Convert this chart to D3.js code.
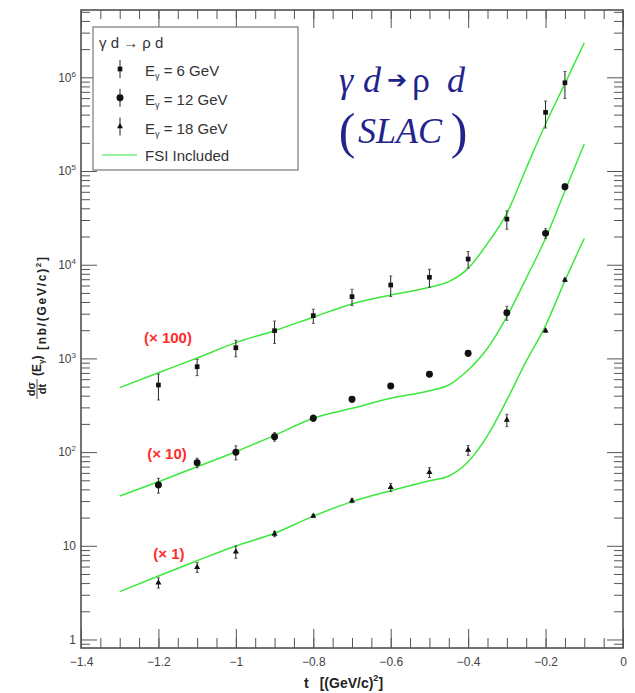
<!DOCTYPE html>
<html>
<head>
<meta charset="utf-8" />
<title>gamma d -> rho d (SLAC)</title>
<script src="https://cdn.jsdelivr.net/npm/d3@7"></script>
<style>
html, body {
  margin: 0;
  padding: 0;
  background: #fff;
}
svg { font-family: "Liberation Sans", Arial, sans-serif; }
.axis .domain { display: none; }
.axis line { stroke: #555; stroke-width: 1; }
.axis text { fill: #444; font-size: 12px; font-family: "Liberation Sans", Arial, sans-serif; }
</style>
</head>
<body>
<svg id="chart" width="635" height="693"></svg>
<script>
// -t points of the measurements
var tPoints = [-1.2, -1.1, -1.0, -0.9, -0.8, -0.7, -0.6, -0.5, -0.4, -0.3, -0.2, -0.15];

// E = 6 GeV (x100)
var e6Val = [520, 815, 1300, 1975, 2860, 4560, 6070, 7340, 11500, 30700, 423000, 875000];
var e6Err = [160, 160, 260, 530, 490, 900, 1500, 1600, 2300, 6800, 135000, 280000];
// E = 12 GeV (x10)
var e12Val = [44.5, 77, 99.6, 146, 230, 366, 508, 676, 1133, 3075, 21600, 67900];
var e12Err = [8, 9, 17, 15, 18, 26, 25, 34, 80, 520, 2600, 4800];
// E = 18 GeV (x1)
var e18Val = [4.04, 5.9, 8.65, 13.4, 20.8, 30.3, 42.1, 60.8, 105, 220, 1975, 6870];
var e18Err = [0.5, 0.7, 1.3, 0.9, 0.8, 1.5, 4.2, 7.3, 12.6, 33, 80, 275];

// FSI curves
var fsiT = [-1.3, -1.2, -1.1, -1.0, -0.9, -0.8, -0.7, -0.6, -0.5, -0.45, -0.4, -0.35, -0.3, -0.25, -0.2, -0.15, -0.1];
var fsi6 = [487, 702, 1009, 1472, 1977, 2754, 3811, 4753, 5741, 6592, 9141, 16900, 35300, 107000, 318000, 855000, 2340000];
var fsi12 = [34, 48.3, 69.8, 101, 151, 230, 293, 375, 452, 520, 752, 1282, 2786, 7160, 19140, 61200, 194000];
var fsi18 = [3.24, 4.76, 6.93, 9.95, 13.6, 20.7, 29.6, 38.7, 49.5, 55.6, 79, 150, 360, 933, 2240, 6761, 19050];

// axes
var xTicks = [-1.4, -1.2, -1.0, -0.8, -0.6, -0.4, -0.2, 0];
var xMinor = d3.range(-1.4, 0.001, 0.05);
var yTicks = [1, 10, 100, 1000, 1e4, 1e5, 1e6];
var xDomain = [-1.4, 0];
var yDomain = [0.811, 5.23e6];

var pL = 81, pR = 623, pT = 10, pB = 648;
var svg = d3.select("#chart");

var x = d3.scaleLinear().domain(xDomain).range([pL, pR]);
var y = d3.scaleLog().domain(yDomain).range([pB, pT]);

// minor y ticks 2..9 per decade
var yMinor = [];
for (var e = -1; e <= 6; e++) {
  for (var m = 2; m <= 9; m++) {
    var v = m * Math.pow(10, e);
    if (v >= yDomain[0] && v <= yDomain[1]) yMinor.push(v);
  }
}

// frame
svg.append("rect")
  .attr("x", pL).attr("y", pT)
  .attr("width", pR - pL).attr("height", pB - pT)
  .attr("fill", "none").attr("stroke", "#444").attr("stroke-width", 1.5);

// x axes (bottom with labels, top ticks only)
svg.append("g").attr("class", "axis")
  .attr("transform", "translate(0," + pB + ")")
  .call(d3.axisBottom(x).tickValues(xMinor).tickSize(-10).tickFormat(""));
svg.append("g").attr("class", "axis")
  .attr("transform", "translate(0," + pB + ")")
  .call(d3.axisBottom(x).tickValues(xTicks).tickSize(-19).tickPadding(9)
    .tickFormat(function(d) { return d === 0 ? "0" : d3.format("~g")(d); }));
svg.append("g").attr("class", "axis")
  .attr("transform", "translate(0," + pT + ")")
  .call(d3.axisTop(x).tickValues(xMinor).tickSize(-9).tickFormat(""));
svg.append("g").attr("class", "axis")
  .attr("transform", "translate(0," + pT + ")")
  .call(d3.axisTop(x).tickValues(xTicks).tickSize(-18).tickFormat(""));

// y axes
svg.append("g").attr("class", "axis")
  .attr("transform", "translate(" + pL + ",0)")
  .call(d3.axisLeft(y).tickValues(yMinor).tickSize(-9).tickFormat(""));
var yAx = svg.append("g").attr("class", "axis")
  .attr("transform", "translate(" + pL + ",0)")
  .call(d3.axisLeft(y).tickValues(yTicks).tickSize(-16).tickPadding(5).tickFormat(""));
yAx.selectAll(".tick text").each(function(d) {
  var p = Math.round(Math.log10(d));
  var t = d3.select(this);
  if (p < 2) {
    t.text(p === 0 ? "1" : "10");
  } else {
    t.append("tspan").text("10");
    t.append("tspan").attr("font-size", "8px").attr("dy", "-5").text(p);
  }
});
svg.append("g").attr("class", "axis")
  .attr("transform", "translate(" + pR + ",0)")
  .call(d3.axisRight(y).tickValues(yMinor).tickSize(-9).tickFormat(""));
svg.append("g").attr("class", "axis")
  .attr("transform", "translate(" + pR + ",0)")
  .call(d3.axisRight(y).tickValues(yTicks).tickSize(-16).tickFormat(""));

// FSI curves
var line = d3.line()
  .x(function(d) { return x(d[0]); })
  .y(function(d) { return y(d[1]); })
  .curve(d3.curveMonotoneX);

[fsi6, fsi12, fsi18].forEach(function(vals) {
  svg.append("path")
    .datum(fsiT.map(function(t, i) { return [t, vals[i]]; }))
    .attr("d", line)
    .attr("fill", "none")
    .attr("stroke", "#3de83d")
    .attr("stroke-width", 1.5);
});

// data points
var series = [
  { val: e6Val, err: e6Err, sym: d3.symbolSquare, size: 22 },
  { val: e12Val, err: e12Err, sym: d3.symbolCircle, size: 38 },
  { val: e18Val, err: e18Err, sym: d3.symbolTriangle, size: 16 }
];

series.forEach(function(s) {
  var g = svg.append("g");
  var pts = tPoints.map(function(t, i) { return { t: t, v: s.val[i], e: s.err[i] }; });
  var bars = g.selectAll(".err").data(pts).enter().append("g");
  bars.append("line")
    .attr("x1", function(d) { return x(d.t); })
    .attr("x2", function(d) { return x(d.t); })
    .attr("y1", function(d) { return y(d.v + d.e); })
    .attr("y2", function(d) { return y(Math.max(d.v - d.e, 1e-3)); })
    .attr("stroke", "#222").attr("stroke-width", 1);
  [1, -1].forEach(function(sg) {
    bars.append("line")
      .attr("x1", function(d) { return x(d.t) - 1.5; })
      .attr("x2", function(d) { return x(d.t) + 1.5; })
      .attr("y1", function(d) { return y(sg > 0 ? d.v + d.e : d.v - d.e); })
      .attr("y2", function(d) { return y(sg > 0 ? d.v + d.e : d.v - d.e); })
      .attr("stroke", "#555").attr("stroke-width", 1);
  });
  g.selectAll(".pt").data(pts).enter().append("path")
    .attr("transform", function(d) { return "translate(" + x(d.t) + "," + y(d.v) + ")"; })
    .attr("d", d3.symbol().type(s.sym).size(s.size))
    .attr("fill", "#111");
});

// scale factor labels
var scaleLabels = [
  { text: "(\u00d7 100)", x: 168, y: 343 },
  { text: "(\u00d7 10)", x: 167, y: 459 },
  { text: "(\u00d7 1)", x: 169, y: 559 }
];
svg.selectAll(".scaleLab").data(scaleLabels).enter().append("text")
  .attr("x", function(d) { return d.x; })
  .attr("y", function(d) { return d.y; })
  .attr("text-anchor", "middle")
  .attr("font-size", "15px").attr("font-weight", "bold")
  .attr("fill", "#ff2d2d")
  .text(function(d) { return d.text; });

// legend
var leg = svg.append("g");
leg.append("rect")
  .attr("x", 93).attr("y", 27).attr("width", 205).attr("height", 143)
  .attr("fill", "#fff").attr("stroke", "#777").attr("stroke-width", 1.2);
leg.append("text").attr("x", 99).attr("y", 48)
  .attr("font-size", "15px").attr("fill", "#333")
  .text("\u03b3 d \u2192 \u03c1 d");
var legE = ["6", "12", "18"];
series.forEach(function(s, i) {
  var cy = 69 + i * 28.8;
  leg.append("line").attr("x1", 120).attr("x2", 120)
    .attr("y1", cy - 9).attr("y2", cy + 9)
    .attr("stroke", "#222").attr("stroke-width", 1);
  leg.append("path")
    .attr("transform", "translate(120," + cy + ")")
    .attr("d", d3.symbol().type(s.sym).size(s.size))
    .attr("fill", "#111");
  var tx = leg.append("text").attr("x", 145).attr("y", cy + 7)
    .attr("font-size", "15px").attr("fill", "#333");
  tx.append("tspan").text("E");
  tx.append("tspan").attr("font-size", "9px").attr("dy", 3).text("\u03b3");
  tx.append("tspan").attr("dy", -3).text(" = " + legE[i] + " GeV");
});
leg.append("line").attr("x1", 102).attr("x2", 137).attr("y1", 155).attr("y2", 155)
  .attr("stroke", "#3de83d").attr("stroke-width", 1.2);
leg.append("text").attr("x", 145).attr("y", 161)
  .attr("font-size", "15px").attr("fill", "#333")
  .text("FSI Included");

// big title
var titleC = "#23238c";
var serif = "'Liberation Serif', 'DejaVu Serif', serif";
var glyphs = [
  { c: "\u03b3", x: 346, it: true },
  { c: "d", x: 372, it: true },
  { c: "\u2794", x: 397, it: false, bold: true },
  { c: "\u03c1", x: 421, it: false },
  { c: "d", x: 456, it: true }
];
glyphs.forEach(function(g) {
  svg.append("text")
    .attr("x", g.x).attr("y", g.bold ? 88 : 92)
    .attr("text-anchor", "middle")
    .style("font-family", g.bold ? "'DejaVu Sans', sans-serif" : serif)
    .style("font-style", g.it ? "italic" : "normal")
    .style("font-weight", g.bold ? "bold" : "normal")
    .style("font-size", g.bold ? "24px" : "36px")
    .attr("fill", titleC)
    .text(g.c);
});
svg.append("text").attr("x", 347).attr("y", 148).attr("text-anchor", "middle")
  .style("font-family", serif).style("font-size", "50px").attr("fill", titleC).text("(");
svg.append("text").attr("x", 400).attr("y", 143).attr("text-anchor", "middle")
  .style("font-family", serif).style("font-style", "italic").style("font-size", "36px")
  .attr("fill", titleC).text("SLAC");
svg.append("text").attr("x", 459).attr("y", 148).attr("text-anchor", "middle")
  .style("font-family", serif).style("font-size", "50px").attr("fill", titleC).text(")");

// x title
var xt = svg.append("text").attr("x", 304).attr("y", 688)
  .attr("font-size", "14px").attr("font-weight", "bold").attr("fill", "#222");
xt.append("tspan").text("t");
xt.append("tspan").attr("dx", 11).text("[(GeV/c)");
xt.append("tspan").attr("font-size", "9px").attr("dy", -7).text("2");
xt.append("tspan").attr("font-size", "14px").attr("dy", 7).text("]");

// y title (rotated); local (lx, ly) -> page (ly, -lx)
var yt = svg.append("g").attr("transform", "rotate(-90)")
  .attr("font-weight", "bold").attr("fill", "#222");
yt.append("text").attr("x", -389).attr("y", 35).attr("text-anchor", "middle")
  .attr("font-size", "11px").text("d\u03c3");
yt.append("line").attr("x1", -399).attr("x2", -379).attr("y1", 37).attr("y2", 37)
  .attr("stroke", "#222").attr("stroke-width", 0.8);
yt.append("text").attr("x", -389).attr("y", 46).attr("text-anchor", "middle")
  .attr("font-size", "11px").text("dt");
var ye = yt.append("text").attr("x", -376).attr("y", 41).attr("font-size", "12px");
ye.append("tspan").text("(E");
ye.append("tspan").attr("font-size", "8px").attr("dy", 3).text("\u03b3");
ye.append("tspan").attr("dy", -3).text(")");
var yu = yt.append("text").attr("x", -350).attr("y", 46).attr("font-size", "12px")
  .attr("textLength", 93).attr("lengthAdjust", "spacing");
yu.append("tspan").text("[nb/(GeV/c)");
yu.append("tspan").attr("font-size", "8px").attr("dy", -5).text("2");
yu.append("tspan").attr("dy", 5).text("]");
</script>
</body>
</html>
